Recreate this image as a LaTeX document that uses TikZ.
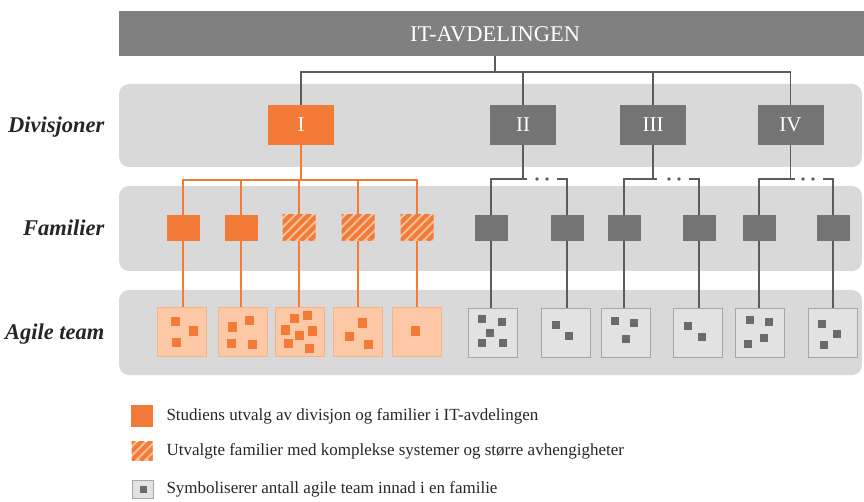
\documentclass[tikz,border=0pt]{standalone}
\usepackage{fontspec}
\setmainfont{Liberation Serif}
\usetikzlibrary{calc}
\definecolor{org}{HTML}{F47A38}
\definecolor{orgl}{HTML}{FCC8A6}
\definecolor{orgb}{HTML}{F4B48A}
\definecolor{orgh}{HTML}{FBBE96}
\definecolor{barc}{HTML}{808080}
\definecolor{bandc}{HTML}{D9D9D9}
\definecolor{gbox}{HTML}{747474}
\definecolor{gline}{HTML}{5C5C5C}
\definecolor{tfill}{HTML}{E2E2E2}
\definecolor{tbord}{HTML}{A6A6A6}
\definecolor{gsq}{HTML}{6B6B6B}
\definecolor{txt}{HTML}{262626}
\begin{document}
\begin{tikzpicture}[x=1pt,y=-1pt,
  bandbox/.style={fill=bandc, rounded corners=10pt},
  divo/.style={fill=org, minimum width=66pt, minimum height=40pt, inner sep=0pt, text=white, font=\fontsize{21}{21}\selectfont},
  divg/.style={divo, fill=gbox},
  fambox/.style={minimum width=33pt, minimum height=26pt, inner sep=0pt},
  famo/.style={fambox, fill=org},
  famg/.style={fambox, fill=gbox},
  hatched/.style={fill=orgh, path picture={
      \foreach \i in {-36,-27,...,45}
        \draw[org, line width=4pt] ($(path picture bounding box.south west)+(\i,0)$) -- ++(-45:70);}},
  famh/.style={fambox, hatched},
  teambox/.style={minimum size=49pt, inner sep=0pt, line width=0.8pt},
  teamo/.style={teambox, fill=orgl, draw=orgb},
  teamg/.style={teambox, fill=tfill, draw=tbord},
  oline/.style={draw=org, line width=1.5pt},
  gline/.style={draw=gline, line width=1.3pt},
  lbl/.style={anchor=base east, text=txt, font=\fontsize{22.5}{22.5}\selectfont\bfseries\itshape},
  legtext/.style={anchor=west, text=txt, font=\fontsize{17}{17}\selectfont},
]
\useasboundingbox (0,0) rectangle (864,502);

% bands
\fill[bandbox] (119,84) rectangle (862,167);
\fill[bandbox] (119,186) rectangle (862,271);
\fill[bandbox] (119,290) rectangle (862,375);

% top bar
\node[fill=barc, minimum width=745pt, minimum height=45pt, inner sep=0pt, anchor=north west] (itbar) at (119,11) {};
\node[text=white, font=\fontsize{22.5}{22.5}\selectfont] (ittext) at (495,34) {IT-AVDELINGEN};

% row labels
\node[lbl] (ldiv) at (108,133) {Divisjoner};
\node[lbl] (lfam) at (108,235.5) {Familier};
\node[lbl] (lteam) at (108,339.5) {Agile team};

% divisions
\node[divo] (d1) at (301,125) {I};
\node[divg] (d2) at (523,125) {II};
\node[divg] (d3) at (653,125) {III};
\node[divg] (d4) at (790.5,125) {IV};

% families
\node[famo] (f1) at (183,228) {};
\node[famo] (f2) at (241,228) {};
\node[famh] (f3) at (299,228) {};
\node[famh] (f4) at (358,228) {};
\node[famh] (f5) at (417,228) {};
\node[famg] (f6) at (491,228) {};
\node[famg] (f7) at (567,228) {};
\node[famg] (f8) at (624,228) {};
\node[famg] (f9) at (699,228) {};
\node[famg] (f10) at (759,228) {};
\node[famg] (f11) at (833,228) {};

% teams
\node[teamo] (t1) at (182,331.5) {};
\node[teamo] (t2) at (242.5,331.5) {};
\node[teamo] (t3) at (300,331.5) {};
\node[teamo] (t4) at (357.5,331.5) {};
\node[teamo] (t5) at (416.5,331.5) {};
\node[teamg] (t6) at (492.5,332.5) {};
\node[teamg] (t7) at (566,332.5) {};
\node[teamg] (t8) at (625.5,332.5) {};
\node[teamg] (t9) at (697.5,332.5) {};
\node[teamg] (t10) at (760,332.5) {};
\node[teamg] (t11) at (832.5,332.5) {};

% small team squares
\foreach \x/\y in {175/322,193/331,176/342, 232/327,249/321,231/343,252/344,
  294/319,307/316,285/330,299/335,312/331,288/343,309/348,
  349/336,362/323,368/344, 415/331}
  \fill[org] (\x-4.5,\y-4.5) rectangle ++(9,9);
\foreach \x/\y in {482/319,502/322,490/333,482/343,503/343, 556/325,569/336,
  615/321,634/323,626/339, 688/326,702/337, 750/320,769/322,748/344,764/338,
  822/324,837/334,824/345}
  \fill[gsq] (\x-4,\y-4) rectangle ++(8,8);

% top connectors
\coordinate (hub) at (495,72);
\draw[gline] (itbar.south -| hub) -- (hub);
\draw[gline] (d1.north) -- (d1.north |- hub) -- (d4.north |- hub) -- (d4.north);
\draw[gline] (d2.north) -- (d2.north |- hub);
\draw[gline] (d3.north) -- (d3.north |- hub);

% orange family connectors
\coordinate (oj) at (301,180);
\draw[oline] (d1.south) -- (oj);
\draw[oline] (f1.north) -- (f1.north |- oj) -- (f5.north |- oj) -- (f5.north);
\foreach \f in {f2,f3,f4} \draw[oline] (\f.north) -- (\f.north |- oj);

% gray family connectors
\foreach \d/\l/\r in {d2/f6/f7, d3/f8/f9, d4/f10/f11}{
  \coordinate (j) at ($(\d.south |- oj)+(0,-1)$);
  \draw[gline] (\d.south) -- (j);
  \draw[gline] (\l.north) -- (\l.north |- j) -- ($(j)+(4,0)$);
  \draw[gline] (\r.north) -- (\r.north |- j) -- ++(-10,0);
  \fill[gline] ($(\r.north |- j)+(-30,0)$) circle (0.9);
  \fill[gline] ($(\r.north |- j)+(-20,0)$) circle (0.9);
}

% family to team connectors
\foreach \i in {1,...,5} \draw[oline] (f\i.south) -- (f\i.south |- t\i.north);
\foreach \i in {6,...,11} \draw[gline] (f\i.south) -- (f\i.south |- t\i.north);

% legend
\node[fill=org, minimum size=22pt, inner sep=0pt] (lg1) at (142,416) {};
\node[hatched, minimum width=21pt, minimum height=19pt, inner sep=0pt] (lg2) at (142,451) {};
\node[fill=tfill, draw=tbord, line width=0.8pt, minimum width=21pt, minimum height=18pt, inner sep=0pt] (lg3) at (143,489) {};
\fill[gsq] ($(lg3.center)+(-3.5,-3.5)$) rectangle ++(7,7);
\node[legtext] (lt1) at (163,416) {Studiens utvalg av divisjon og familier i IT-avdelingen};
\node[legtext] (lt2) at (163,451) {Utvalgte familier med komplekse systemer og større avhengigheter};
\node[legtext] (lt3) at (163,489) {Symboliserer antall agile team innad i en familie};
\end{tikzpicture}
\end{document}
